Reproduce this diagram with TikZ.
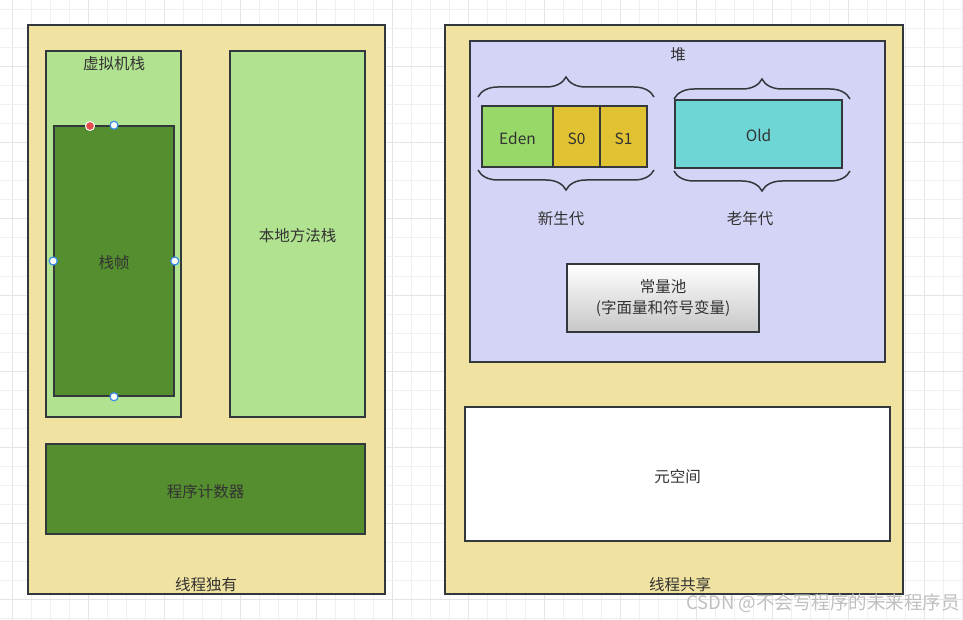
\documentclass[tikz,border=0pt]{standalone}
\usepackage{fontspec}
\setmainfont{Noto Sans CJK SC}
\usetikzlibrary{decorations.pathreplacing}
\definecolor{panel}{RGB}{240,226,160}
\definecolor{lgreen}{RGB}{176,226,144}
\definecolor{dgreen}{RGB}{84,142,46}
\definecolor{heap}{RGB}{212,212,247}
\definecolor{eden}{RGB}{151,216,105}
\definecolor{surv}{RGB}{224,194,50}
\definecolor{old}{RGB}{111,214,214}
\definecolor{edge}{RGB}{51,56,60}
\definecolor{txt}{RGB}{51,51,51}
\definecolor{gridminor}{RGB}{240,240,240}
\definecolor{gridmajor}{RGB}{228,228,228}
\definecolor{handle}{RGB}{58,142,230}
\definecolor{reddot}{RGB}{230,76,76}
\tikzset{
  box/.style={draw=edge, line width=1.5pt, inner sep=0pt, text=txt, font=\fontsize{15.5}{18}\selectfont, text height=16pt, text depth=0pt},
  panelbox/.style={box, fill=panel, line width=1.8pt},
  lbl/.style={text=txt, inner sep=0pt, font=\fontsize{15.5}{18}\selectfont, text height=16pt, text depth=0pt},
  brc/.style={draw=edge, line width=1.5pt, decorate, decoration={brace, amplitude=20pt}},
  bluehandle/.style={circle, draw=handle, fill=white, line width=1.2pt, minimum size=8pt, inner sep=0pt},
  redhandle/.style={circle, draw=white, fill=reddot, line width=1pt, minimum size=9pt, inner sep=0pt},
}
\begin{document}
\begin{tikzpicture}[x=1pt,y=-1pt]
\useasboundingbox (0,0) rectangle (963,620);
\fill[white] (0,0) rectangle (963,620);
% grid
\foreach \i in {0,...,50} {
  \pgfmathsetmacro{\xx}{12.3+19*\i}
  \pgfmathtruncatemacro{\m}{mod(\i,4)}
  \ifnum\m=0 \draw[gridmajor, line width=1pt] (\xx,0) -- (\xx,620);
  \else \draw[gridminor, line width=1pt] (\xx,0) -- (\xx,620); \fi
}
\foreach \i in {0,...,32} {
  \pgfmathsetmacro{\yy}{10+19*\i}
  \pgfmathtruncatemacro{\m}{mod(\i+1,4)}
  \ifnum\m=0 \draw[gridmajor, line width=1pt] (0,\yy) -- (963,\yy);
  \else \draw[gridminor, line width=1pt] (0,\yy) -- (963,\yy); \fi
}
% left panel
\node[panelbox, minimum width=357pt, minimum height=569pt] (left) at (206.5,309.5) {};
\node[lbl] (leftlbl) at (206,582) {线程独有};
\node[box, fill=lgreen, minimum width=135pt, minimum height=366pt] (jvms) at (113.5,234) {};
\node[lbl] (jvmslbl) at (114,62) {虚拟机栈};
\node[box, fill=dgreen, minimum width=120pt, minimum height=270pt] (frame) at (114,261) {栈帧};
\node[box, fill=lgreen, minimum width=135pt, minimum height=366pt] (native) at (297.5,234) {本地方法栈};
\node[box, fill=dgreen, minimum width=319pt, minimum height=90pt] (pc) at (205.5,489) {程序计数器};
\node[redhandle] (h0) at (90,126) {};
\node[bluehandle] (h1) at (frame.north) {};
\node[bluehandle] (h2) at (frame.west) {};
\node[bluehandle] (h3) at (frame.east) {};
\node[bluehandle] (h4) at (frame.south) {};
% right panel
\node[panelbox, minimum width=458pt, minimum height=569pt] (right) at (674,309.5) {};
\node[lbl] (rightlbl) at (680,582) {线程共享};
\node[box, fill=heap, minimum width=415pt, minimum height=321pt] (heap) at (677.5,201.5) {};
\node[lbl] (heaplbl) at (678,53) {堆};
\node[box, fill=eden, minimum width=71pt, minimum height=61pt] (eden) at (517.5,136.5) {Eden};
\node[box, fill=surv, minimum width=47pt, minimum height=61pt] (s0) at (576.5,136.5) {S0};
\node[box, fill=surv, minimum width=47pt, minimum height=61pt] (s1) at (623.5,136.5) {S1};
\node[box, fill=old, minimum width=167pt, minimum height=68pt] (old) at (758.5,134) {Old};
\coordinate (ya1) at (478,97);
\coordinate (ya2) at (654,97);
\coordinate (yb1) at (478,170);
\coordinate (yb2) at (654,170);
\coordinate (oa1) at (674,99);
\coordinate (oa2) at (850,99);
\coordinate (ob1) at (674,171);
\coordinate (ob2) at (850,171);
\draw[brc] (ya1) -- (ya2);
\draw[brc] (yb2) -- (yb1);
\draw[brc] (oa1) -- (oa2);
\draw[brc] (ob2) -- (ob1);
\node[lbl] (younglbl) at (561,217) {新生代};
\node[lbl] (oldlbl) at (750,217) {老年代};
\node[box, top color=white, bottom color=black!22, minimum width=192pt, minimum height=68pt, align=center, font=\fontsize{15.5}{21}\selectfont, text height={}, text depth={}] (pool) at (663,298) {常量池\\(字面量和符号变量)};
\node[box, fill=white, minimum width=425pt, minimum height=134pt] (meta) at (677.5,474) {元空间};
% watermark
\node[text=black!25, inner sep=0pt, anchor=east, font=\fontsize{18.5}{20}\selectfont] (wm) at (960,603) {CSDN @不会写程序的未来程序员};
\end{tikzpicture}
\end{document}
